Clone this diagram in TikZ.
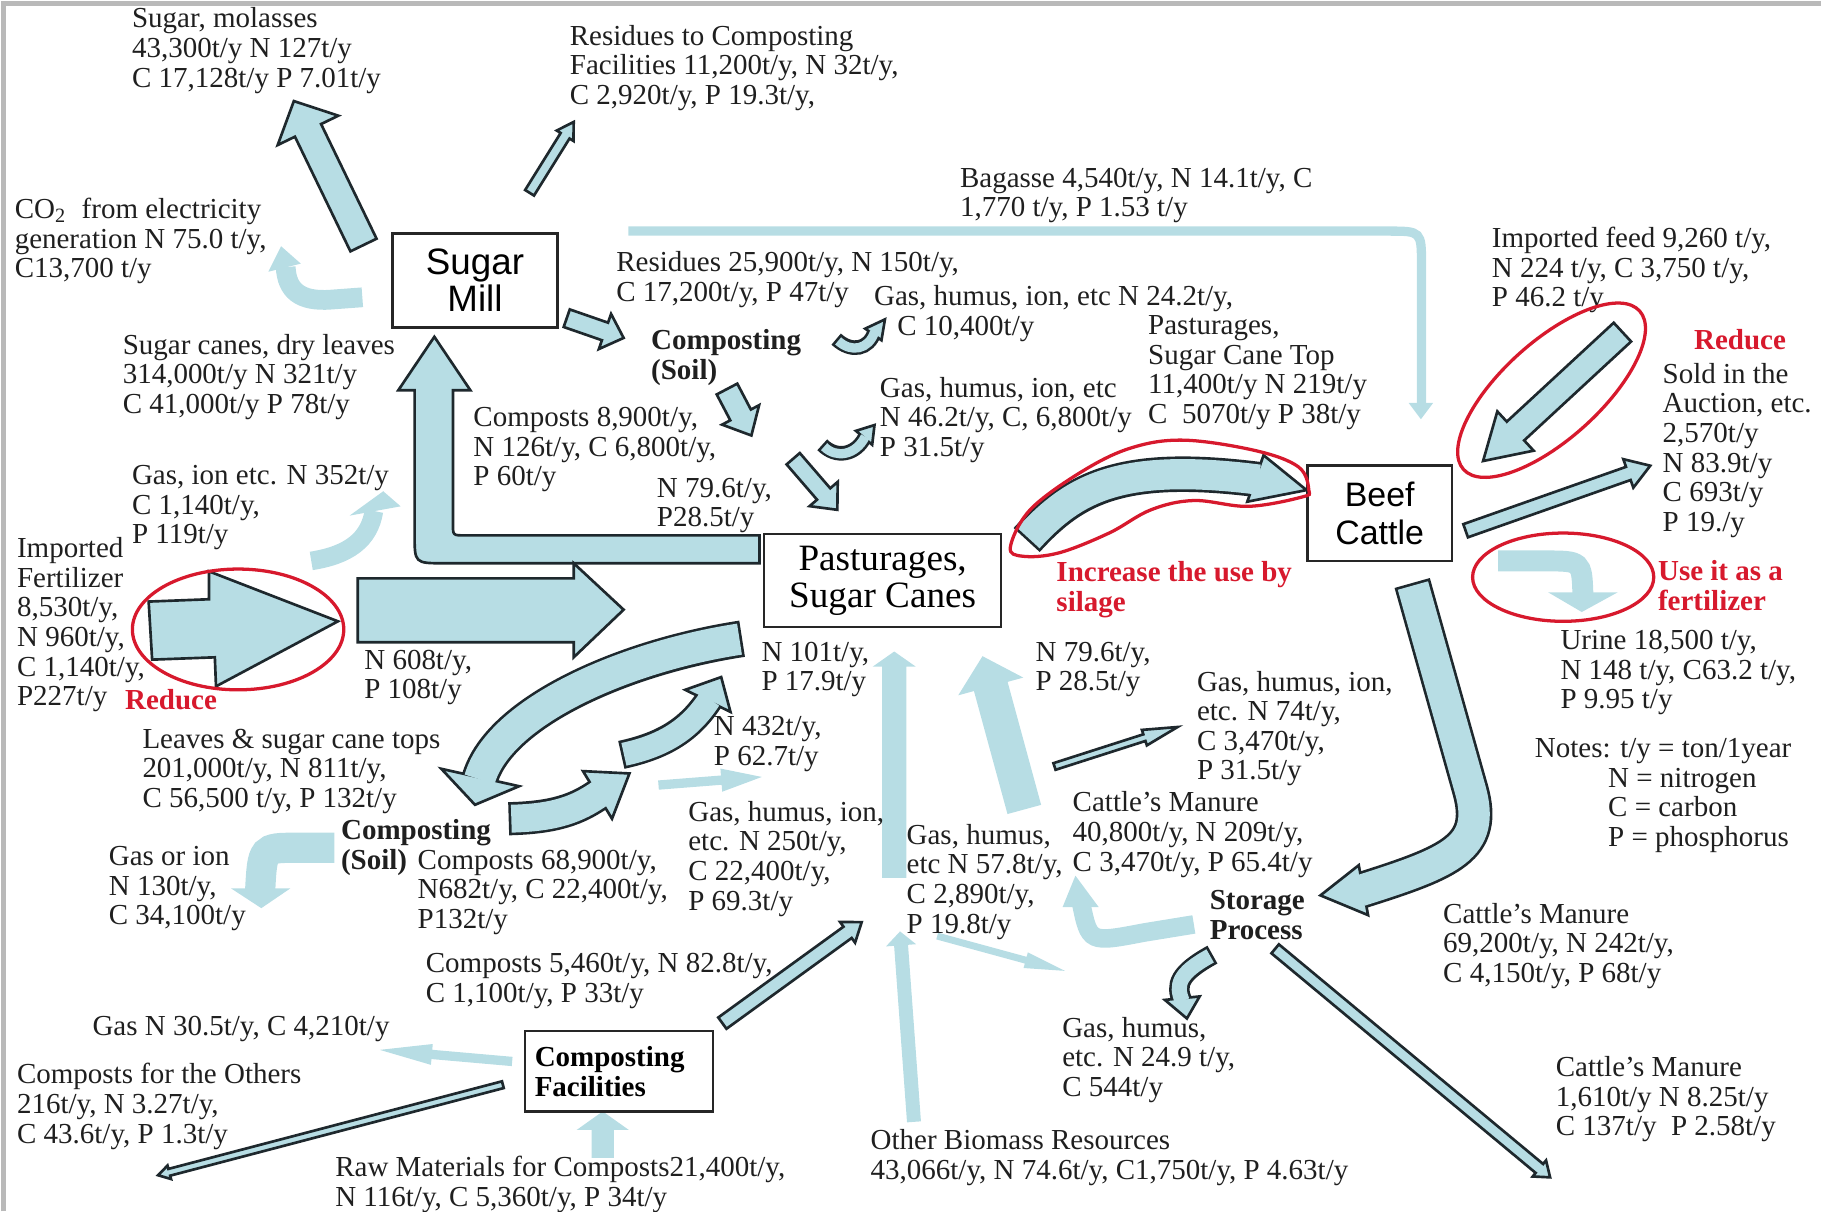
\documentclass[tikz,border=0pt]{standalone}
\usepackage{fontspec}
\setmainfont{Liberation Serif}
\newfontfamily\sansbox{Liberation Sans}
\usetikzlibrary{calc,backgrounds}
\definecolor{flowc}{RGB}{183,221,228}
\definecolor{edgec}{RGB}{30,40,45}
\definecolor{redc}{RGB}{215,25,45}
\newcommand\fsz{\fontsize{7.1pt}{7.26pt}\selectfont}

% straight block arrow: [style]{tail}{tip}{shaft width}{head width}{head length}
\newcommand\blockarrow[6][flowline]{%
  \path let \p1=($(#3)-(#2)$) in \pgfextra{%
    \pgfmathsetmacro\baAng{atan2(\y1,\x1)}\xdef\baAng{\baAng}%
    \pgfmathsetmacro\baLen{veclen(\x1,\y1)}\xdef\baLen{\baLen}};
  \pgfmathsetmacro\baS{#4*0.1423}%
  \pgfmathsetmacro\baH{#5*0.1423}%
  \pgfmathsetmacro\baB{\baLen-#6*0.2845}%
  \filldraw[#1,shift={(#2)},rotate=\baAng]
    (0pt,\baS pt) -- (\baB pt,\baS pt) -- (\baB pt,\baH pt) -- (\baLen pt,0pt)
    -- (\baB pt,-\baH pt) -- (\baB pt,-\baS pt) -- (0pt,-\baS pt) -- cycle;}
% curved band arrows: {width}{shaft path}{head}
\newcommand\bandline[3]{%
  \pgfmathsetmacro\bdW{#1*0.2845}\pgfmathsetmacro\bdO{#1*0.2845+1.3}%
  \draw[line width=\bdO pt,draw=edgec] #2;
  \filldraw[flowline] #3;
  \draw[line width=\bdW pt,draw=flowc,shorten <=0.65pt] #2;}
\newcommand\bandfill[3]{%
  \pgfmathsetmacro\bdW{#1*0.2845}%
  \draw[line width=\bdW pt,draw=flowc] #2;
  \fill[flowc] #3;}

\tikzset{
  lbl/.style={anchor=north west, inner sep=0pt, align=left, font=\fsz, text=black!88, execute at begin node=\strut},
  boldlbl/.style={lbl, font=\fsz\bfseries},
  redlbl/.style={lbl, font=\fsz\bfseries, text=redc},
  box/.style={draw=black!85, fill=white, line width=0.6pt, inner sep=0pt, align=center},
  flowline/.style={fill=flowc, draw=edgec, line width=0.65pt, line join=miter},
  flowfill/.style={fill=flowc, draw=none},
  ring/.style={draw=redc, line width=0.8pt}
}

\begin{document}
\begin{tikzpicture}[x=0.01cm, y=-0.01cm]
\useasboundingbox (0,0) rectangle (1568,1043);
\draw[gray!55, line width=1pt] (3,1043) -- (3,3) -- (1568,3);

% boxes
\node[box, font=\sansbox\fontsize{9pt}{9.1pt}\selectfont, minimum width=1.42cm, minimum height=0.81cm] (mill) at (409,241.5) {Sugar\\Mill};
\node[box, font=\fontsize{9.1pt}{9.1pt}\selectfont, minimum width=2.04cm, minimum height=0.8cm] (pasture) at (760,500) {Pasturages,\\Sugar Canes};
\node[box, font=\sansbox\fontsize{8.3pt}{9.4pt}\selectfont, minimum width=1.24cm, minimum height=0.82cm] (beef) at (1188,442) {Beef\\Cattle};
\node[box, font=\fsz\bfseries, text width=1.45cm, align=left, minimum width=1.62cm, minimum height=0.69cm] (compfac) at (533,922.5) {Composting\\Facilities};

% labels
\node[lbl] (molasses) at (113,6) {Sugar, molasses\\43,300t/y N 127t/y\\C 17,128t/y P 7.01t/y};
\node[lbl] (rescomp) at (490,21) {Residues to Composting\\Facilities 11,200t/y, N 32t/y,\\C 2,920t/y, P 19.3t/y,};
\node[lbl] (co2) at (12,170) {CO\textsubscript{2}\ \ from electricity\\generation N 75.0 t/y,\\C13,700 t/y};
\node[lbl] (bagasse) at (826,144) {Bagasse 4,540t/y, N 14.1t/y, C\\1,770 t/y, P 1.53 t/y};
\node[lbl] (residues) at (530,216) {Residues 25,900t/y, N 150t/y,\\C 17,200t/y, P 47t/y};
\node[lbl] (gas1) at (752,245) {Gas, humus, ion, etc N 24.2t/y,\\\hspace*{0.2cm}C 10,400t/y};
\node[lbl] (pastop) at (988,271) {Pasturages,\\Sugar Cane Top\\11,400t/y N 219t/y\\C\ \ 5070t/y P 38t/y};
\node[lbl] (feed) at (1284,195) {Imported feed 9,260 t/y,\\N 224 t/y, C 3,750 t/y,\\P 46.2 t/y};
\node[boldlbl] (soil1) at (560,283) {Composting\\(Soil)};
\node[lbl] (canes) at (105,287) {Sugar canes, dry leaves\\314,000t/y N 321t/y\\C 41,000t/y P 78t/y};
\node[lbl] (gas2) at (757,324) {Gas, humus, ion, etc\\N 46.2t/y, C, 6,800t/y\\P 31.5t/y};
\node[lbl] (comp89) at (407,350) {Composts 8,900t/y,\\N 126t/y, C 6,800t/y,\\P 60t/y};
\node[redlbl] (reduce1) at (1458,282) {Reduce};
\node[lbl] (sold) at (1431,312) {Sold in the\\Auction, etc.\\2,570t/y\\N 83.9t/y\\C 693t/y\\P 19./y};
\node[lbl] (gasion) at (113,400) {Gas, ion etc. N 352t/y\\C 1,140t/y,\\P 119t/y};
\node[lbl] (n796a) at (565,411) {N 79.6t/y,\\P28.5t/y};
\node[lbl] (fert) at (14,462) {Imported\\Fertilizer\\8,530t/y,\\N 960t/y,\\C 1,140t/y,\\P227t/y};
\node[redlbl] (reduce2) at (107,592) {Reduce};
\node[redlbl] (silage) at (909,483) {Increase the use by\\silage};
\node[redlbl] (usefert) at (1427,482) {Use it as a\\fertilizer};
\node[lbl] (n608) at (313,559) {N 608t/y,\\P 108t/y};
\node[lbl] (n101) at (655,552) {N 101t/y,\\P 17.9t/y};
\node[lbl] (n796b) at (891,552) {N 79.6t/y,\\P 28.5t/y};
\node[lbl] (urine) at (1343,542) {Urine 18,500 t/y,\\N 148 t/y, C63.2 t/y,\\P 9.95 t/y};
\node[lbl] (gas3) at (1030,577) {Gas, humus, ion,\\etc. N 74t/y,\\C 3,470t/y,\\P 31.5t/y};
\node[lbl] (n432) at (614,616) {N 432t/y,\\P 62.7t/y};
\node[lbl] (leaves) at (122,627) {Leaves \& sugar cane tops\\201,000t/y, N 811t/y,\\C 56,500 t/y, P 132t/y};
\node[lbl] (notes) at (1321,635) {Notes: t/y = ton/1year\\\hspace*{0.63cm}N = nitrogen\\\hspace*{0.63cm}C = carbon\\\hspace*{0.63cm}P = phosphorus};
\node[lbl] (manure1) at (923,681) {Cattle’s Manure\\40,800t/y, N 209t/y,\\C 3,470t/y, P 65.4t/y};
\node[lbl] (gas4) at (592,689) {Gas, humus, ion,\\etc. N 250t/y,\\C 22,400t/y,\\P 69.3t/y};
\node[boldlbl] (soil2) at (293,705) {Composting\\(Soil)};
\node[lbl] (comp689) at (359,731) {Composts 68,900t/y,\\N682t/y, C 22,400t/y,\\P132t/y};
\node[lbl] (gas5) at (780,709) {Gas, humus,\\etc N 57.8t/y,\\C 2,890t/y,\\P 19.8t/y};
\node[lbl] (gasor) at (93,728) {Gas or ion\\N 130t/y,\\C 34,100t/y};
\node[boldlbl] (storage) at (1041,766) {Storage\\Process};
\node[lbl] (manure2) at (1242,777) {Cattle’s Manure\\69,200t/y, N 242t/y,\\C 4,150t/y, P 68t/y};
\node[lbl] (comp546) at (366,820) {Composts 5,460t/y, N 82.8t/y,\\C 1,100t/y, P 33t/y};
\node[lbl] (gasN) at (79,873) {Gas N 30.5t/y, C 4,210t/y};
\node[lbl] (gas6) at (914,875) {Gas, humus,\\etc. N 24.9 t/y,\\C 544t/y};
\node[lbl] (manure3) at (1339,909) {Cattle’s Manure\\1,610t/y N 8.25t/y\\C 137t/y\ \ P 2.58t/y};
\node[lbl] (others) at (14,915) {Composts for the Others\\216t/y, N 3.27t/y,\\C 43.6t/y, P 1.3t/y};
\node[lbl] (raw) at (288,995) {Raw Materials for Composts21,400t/y,\\N 116t/y, C 5,360t/y, P 34t/y};
\node[lbl] (biomass) at (749,972) {Other Biomass Resources\\43,066t/y, N 74.6t/y, C1,750t/y, P 4.63t/y};

% arrow ends
\coordinate (molT) at (313,211); \coordinate (molH) at (253,87);
\coordinate (resT) at (456,166); \coordinate (resH) at (494,105);
\coordinate (cmpT) at (488,274); \coordinate (cmpH) at (537,291);
\coordinate (co2T) at (312,256); \coordinate (co2H) at (242,212);
\coordinate (bagT) at (541,199); \coordinate (bagH) at (1223.5,361);
\coordinate (soilT) at (626,335); \coordinate (soilH) at (647,375);
\coordinate (g1T) at (720,292); \coordinate (g1H) at (762,275);
\coordinate (g2T) at (708,383); \coordinate (g2H) at (753,366);
\coordinate (n796T) at (683,395); \coordinate (n796H) at (721,439);
\coordinate (pastW) at (654,461); \coordinate (millS) at (374,290);
\coordinate (pastE) at (884,465); \coordinate (beefW) at (1125,422);
\coordinate (soldT) at (1262,457); \coordinate (soldH) at (1421,401);
\coordinate (feedT) at (1397,286); \coordinate (feedH) at (1277,397);
\coordinate (beefU) at (1290,483); \coordinate (urineH) at (1362,527);
\coordinate (beefS) at (1216,502); \coordinate (storE) at (1137,771);
\coordinate (fertT) at (128,518); \coordinate (fertH) at (291,535);
\coordinate (fertG) at (268,483); \coordinate (gasionH) at (330,423);
\coordinate (n608T) at (308,498); \coordinate (n608H) at (537,525);
\coordinate (pastSW) at (639,550); \coordinate (leavesH) at (409,693);
\coordinate (soilR) at (438,705); \coordinate (soilH2) at (542,666);
\coordinate (cmpU) at (535,650); \coordinate (cmpUH) at (621,583);
\coordinate (g4T) at (567,676); \coordinate (g4H) at (656,669);
\coordinate (n101T) at (770,756); \coordinate (n101H) at (770,561);
\coordinate (n796bT) at (882,697); \coordinate (n796bH) at (846,565);
\coordinate (featT) at (908,660); \coordinate (featH) at (1014,626);
\coordinate (storW) at (1028,796); \coordinate (storH) at (926,754);
\coordinate (g5T) at (807,806); \coordinate (g5H) at (917,836);
\coordinate (storS) at (1044,822); \coordinate (storGH) at (1022,877);
\coordinate (m3T) at (1098,817); \coordinate (m3H) at (1335,1014);
\coordinate (c546T) at (622,881); \coordinate (c546H) at (742,794);
\coordinate (bioT) at (787,966); \coordinate (bioH) at (775,802);
\coordinate (rawT) at (519,997); \coordinate (rawH) at (519,957);
\coordinate (gasNT) at (441,914); \coordinate (gasNH) at (327,904);
\coordinate (othT) at (433,934); \coordinate (othH) at (136,1012);
\coordinate (soilL) at (288,730); \coordinate (gasorH) at (225,782);

\begin{scope}[on background layer]
% sugar mill
\blockarrow{molT}{molH}{25}{58}{28}
\blockarrow{resT}{resH}{9}{17}{14}
\blockarrow{cmpT}{cmpH}{16}{32}{17}
\bandfill{17}{(co2T) -- (285,258) .. controls (258,260) and (247,250) .. (246,230)}{(231,234) -- (co2H) -- (259,227) -- cycle}
\bandfill{8}{(bagT) -- (1195,199) .. controls (1224,199) .. (1224,228) -- (1224,349)}{(1213,347) -- (bagH) -- (1234,347) -- cycle}
% composting (soil), upper
\blockarrow{soilT}{soilH}{20}{36}{20}
\bandline{8}{(g1T) .. controls (733,304) and (748,301) .. (753,286)}{(745,283) -- (g1H) -- (759,293) -- cycle}
\bandline{8}{(g2T) .. controls (720,395) and (737,392) .. (745,376)}{(737,371) -- (g2H) -- (751,383) -- cycle}
\blockarrow{n796T}{n796H}{15}{32}{18}
\filldraw[flowline] (pastW) -- (400,461) .. controls (390,461) .. (390,451) -- (390,336) -- (405,336) -- (millS) -- (343,336) -- (357,336) -- (357,460) .. controls (357,485) .. (382,485) -- (654,485) -- cycle;
% beef cattle
\bandline{26}{(pastE) .. controls (925,420) and (965,398) .. (1084,413)}{(1088,392) -- (beefW) -- (1074,432) -- cycle}
\blockarrow{soldT}{soldH}{12}{26}{20}
\blockarrow{feedT}{feedH}{22}{46}{38}
\bandfill{18}{(beefU) -- (1330,483) .. controls (1362,483) .. (1363,512)}{(1333,510) -- (urineH) -- (1393,510) -- cycle}
\bandline{27}{(beefS) -- (1266,680) .. controls (1280,730) and (1250,742) .. (1171,767)}{(1170,745) -- (storE) -- (1178,788) -- cycle}
% fertilizer
\filldraw[flowline] (fertT) -- (180,516) -- (180,492) -- (fertH) -- (186,591) -- (185,566) -- (131,568) -- cycle;
\bandfill{16}{(fertG) .. controls (300,478) and (318,465) .. (322,440)}{(301,444) -- (gasionH) -- (345,436) -- cycle}
\filldraw[flowline] (n608T) -- (494,498) -- (494,485) -- (n608H) -- (494,566) -- (494,553) -- (308,553) -- cycle;
% composting (soil), lower
\bandline{27}{(pastSW) .. controls (540,565) and (430,612) .. (413,671)}{(380,662) -- (leavesH) -- (447,677) -- cycle}
\bandline{24}{(soilR) .. controls (478,704) and (497,697) .. (517,683)}{(502,664) -- (soilH2) -- (527,705) -- cycle}
\bandline{20}{(cmpU) .. controls (572,642) and (594,628) .. (611,602)}{(590,594) -- (cmpUH) -- (629,613) -- cycle}
\blockarrow[flowfill]{g4T}{g4H}{8}{20}{35}
\bandfill{26}{(soilL) -- (255,730) .. controls (226,730) .. (224,767)}{(199,765) -- (gasorH) -- (250,765) -- cycle}
% into pastures
\blockarrow[flowfill]{n101T}{n101H}{21}{37}{13}
\blockarrow[flowfill]{n796bT}{n796bH}{30}{58}{27}
\blockarrow{featT}{featH}{6}{14}{30}
\blockarrow[flowfill]{g5T}{g5H}{6}{14}{35}
\blockarrow[flowfill]{bioT}{bioH}{12}{26}{12}
% storage process
\bandfill{16}{(storW) -- (985,803) .. controls (938,812) .. (931,778)}{(915,781) -- (storH) -- (946,781) -- cycle}
\bandline{13}{(storS) .. controls (1015,838) and (1012,848) .. (1018,862)}{(1003,861) -- (storGH) -- (1033,858) -- cycle}
\blockarrow{m3T}{m3H}{10}{18}{12}
% composting facilities
\blockarrow{c546T}{c546H}{12}{22}{15}
\blockarrow[flowfill]{rawT}{rawH}{19}{45}{16}
\blockarrow[flowfill]{gasNT}{gasNH}{8}{18}{45}
\blockarrow{othT}{othH}{6}{12}{10}
\end{scope}

% red marks
\draw[ring] (205,542) ellipse (91 and 52);
\draw[ring, rotate around={42:(1336,336)}] (1336,336) ellipse (102 and 42);
\draw[ring] (1346,497) ellipse (78 and 38);
\draw[ring] plot[smooth cycle, tension=0.6] coordinates {(870,471) (887,439) (930,407) (973,386) (1019,379) (1081,388) (1118,402) (1127,422) (1121,428) (1075,436) (1028,431) (991,439) (955,459) (912,476) (881,479)};
\end{tikzpicture}
\end{document}
